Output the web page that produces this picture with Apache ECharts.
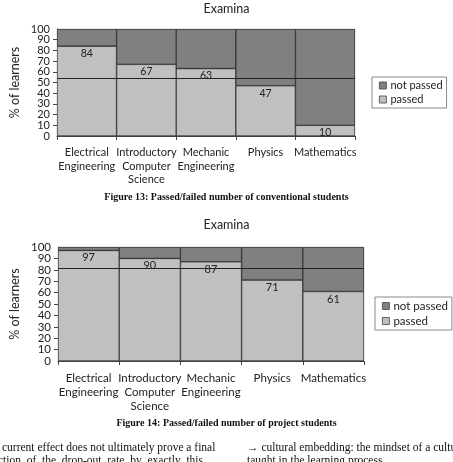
<!DOCTYPE html>
<html>
<head>
<meta charset="utf-8">
<script src="https://cdn.jsdelivr.net/npm/echarts@6/dist/echarts.min.js"></script>
<style>
html, body { margin: 0; padding: 0; background: #fff; }
#exam-chart { width: 453px; height: 462px; }
</style>
</head>
<body>
<div id="exam-chart"></div>
<script>
const categories = ['Electrical\nEngineering', 'Introductory\nComputer\nScience', 'Mechanic\nEngineering', 'Physics', 'Mathematics']
const yTicks = [0, 10, 20, 30, 40, 50, 60, 70, 80, 90, 100]
// Figure 13: conventional students
const convPassed = [84, 67, 63, 47, 10]
const convNotPassed = [16, 33, 37, 53, 90]
// Figure 14: project students
const projPassed = [97, 90, 87, 71, 61]
const projNotPassed = [3, 10, 13, 29, 39]

const font = 'Lato, "Liberation Sans", sans-serif'
const serif = '"Liberation Serif", "DejaVu Serif", serif'
const passedColor = '#c0c0c0', notPassedColor = '#808080'

function xAxisFor(idx, size, lh) {
  return {
    type: 'category',
    gridIndex: idx,
    data: categories,
    axisLine: { lineStyle: { color: '#444' } },
    axisTick: { show: true, length: 4, lineStyle: { color: '#444' } },
    axisLabel: { interval: 0, color: '#222', fontFamily: font, fontSize: size, lineHeight: lh, margin: 10 },
    splitLine: { show: false }
  }
}
// main y axis: line, ticks, name and the inner labels (10..90)
function yAxisFor(idx, size, gap) {
  return {
    type: 'value',
    gridIndex: idx,
    min: yTicks[0],
    max: yTicks[yTicks.length - 1],
    interval: 10,
    name: '% of learners',
    nameLocation: 'middle',
    nameGap: gap,
    nameRotate: 90,
    nameTextStyle: { color: '#222', fontFamily: font, fontSize: 12.5 },
    axisLine: { show: true, lineStyle: { color: '#444' } },
    axisTick: { show: true, length: 4, lineStyle: { color: '#444' } },
    axisLabel: { color: '#222', fontFamily: font, fontSize: size, margin: 7, showMinLabel: false, showMaxLabel: false },
    splitLine: { show: false }
  }
}
// twin axis that only prints the end labels (0 and 100)
function yEndsFor(idx, size) {
  return {
    type: 'value',
    gridIndex: idx,
    position: 'left',
    min: yTicks[0],
    max: yTicks[yTicks.length - 1],
    interval: 10,
    axisLine: { show: false },
    axisTick: { show: false },
    axisLabel: {
      color: '#222', fontFamily: font, fontSize: size, margin: 7, showMinLabel: true, showMaxLabel: true,
      formatter: v => (v === yTicks[0] || v === yTicks[yTicks.length - 1]) ? String(v) : ''
    },
    splitLine: { show: false }
  }
}
function barSeries(name, data, idx, color, stack, labelSize, avg) {
  const s = {
    name: name,
    type: 'bar',
    stack: stack,
    xAxisIndex: idx,
    yAxisIndex: idx,
    data: data,
    barCategoryGap: '0%',
    barGap: '0%',
    itemStyle: { color: color, borderColor: '#333', borderWidth: 0.6 },
    label: { show: false },
    emphasis: { disabled: true }
  }
  if (avg) {
    s.label = { show: true, position: 'insideTop', distance: 2, color: '#222', fontFamily: font, fontSize: labelSize }
    s.markLine = {
      silent: true,
      symbol: 'none',
      label: { show: false },
      lineStyle: { color: '#222', width: 1, type: 'solid' },
      data: [{ type: 'average' }]
    }
  }
  return s
}
function legendFor(left, top, size) {
  return {
    left: left,
    top: top,
    orient: 'vertical',
    data: ['not passed', 'passed'],
    icon: 'rect',
    itemWidth: 7,
    itemHeight: 7,
    itemGap: 3,
    padding: [3, 4, 3, 7],
    borderColor: '#888',
    borderWidth: 1,
    selectedMode: false,
    itemStyle: { borderColor: '#444', borderWidth: 0.8 },
    textStyle: { color: '#222', fontFamily: font, fontSize: size, padding: [0, 0, 0, -1] }
  }
}

const option = {
  backgroundColor: '#fff',
  animation: false,
  title: [
    { text: 'Examina', left: 'center', top: -3, textStyle: { fontFamily: font, fontSize: 12.5, fontWeight: 'normal', color: '#222' } },
    { text: 'Examina', left: 'center', top: 213, textStyle: { fontFamily: font, fontSize: 12.5, fontWeight: 'normal', color: '#222' } }
  ],
  legend: [legendFor(372, 77, 11), legendFor(375, 297, 11.5)],
  grid: [
    // dark grid background so the seams between columns read as divider lines
    { left: 55, width: 300, top: 29, height: 107, show: true, backgroundColor: '#333', borderWidth: 0 },
    { left: 44, width: 320, top: 247, height: 114, show: true, backgroundColor: '#333', borderWidth: 0 }
  ],
  xAxis: [xAxisFor(0, 11, 13.5), xAxisFor(1, 11.5, 14)],
  yAxis: [yAxisFor(0, 11, 36), yAxisFor(1, 11.5, 37), yEndsFor(0, 11), yEndsFor(1, 11.5)],
  series: [
    barSeries('passed', convPassed, 0, passedColor, 'conv', 10.5, true),
    barSeries('not passed', convNotPassed, 0, notPassedColor, 'conv', 10.5, false),
    barSeries('passed', projPassed, 1, passedColor, 'proj', 11, true),
    barSeries('not passed', projNotPassed, 1, notPassedColor, 'proj', 11, false)
  ],
  graphic: [
    { type: 'text', left: 'center', top: 192, style: { text: 'Figure 13: Passed/failed number of conventional students', fontFamily: serif, fontSize: 10, fontWeight: 'bold', fill: '#111' } },
    { type: 'text', left: 'center', top: 418, style: { text: 'Figure 14: Passed/failed number of project students', fontFamily: serif, fontSize: 10, fontWeight: 'bold', fill: '#111' } },
    { type: 'text', left: 2, top: 442, style: { text: 'current effect does not ultimately prove a final', fontFamily: serif, fontSize: 11.5, fill: '#111' } },
    { type: 'text', left: -2, top: 455, style: { text: 'ction  of  the  drop-out  rate  by  exactly  this', fontFamily: serif, fontSize: 11.5, fill: '#111' } },
    { type: 'text', left: 247, top: 442, style: { text: '\u2192 cultural embedding: the mindset of a culture', fontFamily: serif, fontSize: 11.5, fill: '#111' } },
    { type: 'text', left: 247, top: 455, style: { text: 'taught in the learning process', fontFamily: serif, fontSize: 11.5, fill: '#111' } }
  ]
}

let myChart = echarts.init(document.getElementById('exam-chart'))
myChart.setOption(option)
</script>
</body>
</html>
